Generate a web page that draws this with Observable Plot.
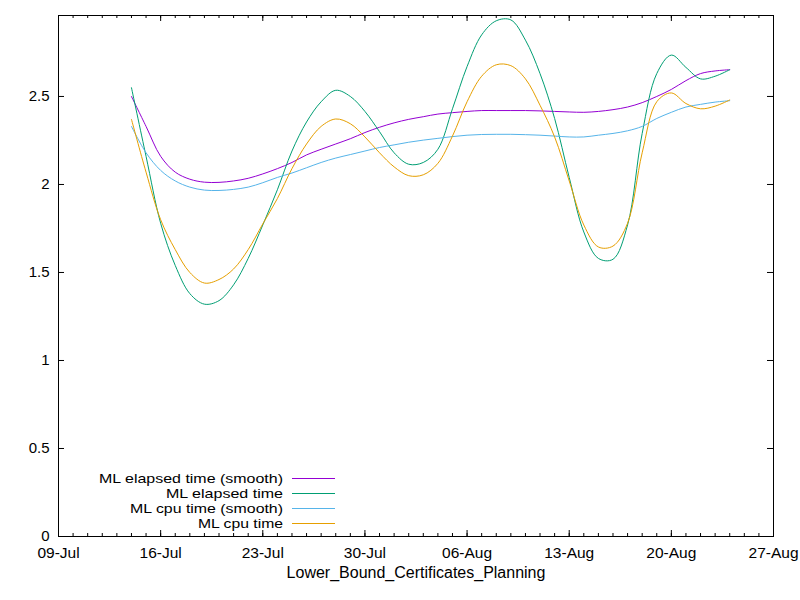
<!DOCTYPE html>
<html><head><meta charset="utf-8">
<script src="https://cdn.jsdelivr.net/npm/d3@7"></script>
<script src="https://cdn.jsdelivr.net/npm/@observablehq/plot@0.6"></script>
<style>body{margin:0;background:#fff}#chart{width:800px;height:600px}</style>
</head><body><div id="chart"></div>
<script>
// Dates: 14-Jul .. 24-Aug (daily)
const dates = [
 "2019-07-14","2019-07-15","2019-07-16","2019-07-17","2019-07-18","2019-07-19","2019-07-20",
 "2019-07-21","2019-07-22","2019-07-23","2019-07-24","2019-07-25","2019-07-26","2019-07-27",
 "2019-07-28","2019-07-29","2019-07-30","2019-07-31","2019-08-01","2019-08-02","2019-08-03",
 "2019-08-04","2019-08-05","2019-08-06","2019-08-07","2019-08-08","2019-08-09","2019-08-10",
 "2019-08-11","2019-08-12","2019-08-13","2019-08-14","2019-08-15","2019-08-16","2019-08-17",
 "2019-08-18","2019-08-19","2019-08-20","2019-08-21","2019-08-22","2019-08-23","2019-08-24"];
const elapsedSmooth = [2.50,2.33,2.16,2.07,2.03,2.013,2.012,2.02,2.035,2.06,2.09,2.125,2.168,2.20,
 2.23,2.26,2.295,2.325,2.35,2.37,2.385,2.40,2.408,2.415,2.42,2.42,2.42,2.42,
 2.418,2.415,2.412,2.41,2.415,2.425,2.44,2.465,2.50,2.54,2.59,2.63,2.645,2.652];
const elapsed = [2.55,2.16,1.78,1.54,1.38,1.32,1.34,1.43,1.58,1.77,1.97,2.19,2.355,2.47,
 2.535,2.50,2.415,2.30,2.18,2.115,2.125,2.20,2.43,2.67,2.85,2.93,2.935,2.82,
 2.63,2.375,2.04,1.73,1.58,1.575,1.77,2.29,2.63,2.735,2.665,2.60,2.615,2.652];
const cpuSmooth = [2.33,2.18,2.08,2.02,1.985,1.968,1.966,1.972,1.985,2.01,2.04,2.065,2.095,2.125,
 2.15,2.17,2.19,2.21,2.225,2.24,2.252,2.262,2.272,2.28,2.284,2.285,2.285,2.283,
 2.28,2.275,2.27,2.27,2.28,2.29,2.305,2.33,2.375,2.41,2.44,2.455,2.468,2.476];
const cpu = [2.37,2.07,1.80,1.63,1.50,1.44,1.46,1.52,1.63,1.776,1.92,2.09,2.23,2.33,
 2.372,2.345,2.27,2.18,2.10,2.05,2.055,2.12,2.275,2.47,2.615,2.68,2.675,2.60,
 2.45,2.27,2.02,1.77,1.645,1.65,1.78,2.18,2.47,2.52,2.46,2.43,2.445,2.48];

const seriesNames = ["ML elapsed time (smooth)","ML elapsed time","ML cpu time (smooth)","ML cpu time"];
const seriesColors = ["#9400d3","#009e73","#56b4e9","#e69f00"];
const seriesValues = [elapsedSmooth, elapsed, cpuSmooth, cpu];

const xTickLabels = ["2019-07-09","2019-07-16","2019-07-23","2019-07-30","2019-08-06","2019-08-13","2019-08-20","2019-08-27"];
const yTicks = [0,0.5,1,1.5,2,2.5];
const xLabel = "Lower_Bound_Certificates_Planning";

const rows = seriesNames.flatMap((name, k) =>
  seriesValues[k].map((v, i) => ({name, date: new Date(dates[i]), value: v})));

const W = 800, H = 600, mL = 58, mR = 27, mT = 15, mB = 64;
const pW = W - mL - mR, pH = H - mT - mB;
const xStart = new Date(xTickLabels[0]), xEnd = new Date(xTickLabels[xTickLabels.length-1]);
const majorX = xTickLabels.map(d => new Date(d));
const minorX = d3.utcDay.range(xStart, d3.utcDay.offset(xEnd, 1));

const chart = Plot.plot({
  width: W, height: H,
  marginLeft: mL, marginRight: mR, marginTop: mT, marginBottom: mB,
  style: {fontFamily: "'Liberation Sans', Arial, sans-serif", fontSize: "15px", background: "white", color: "black"},
  x: {type: "utc", domain: [xStart, xEnd]},
  y: {domain: [0, 2.96]},
  color: {domain: seriesNames, range: seriesColors},
  marks: [
    Plot.axisX({ticks: majorX, tickSize: 0, tickPadding: 10, tickFormat: d3.utcFormat("%d-%b"), label: null, fontSize: 15.5}),
    Plot.axisY({ticks: yTicks, tickSize: 0, tickPadding: 9, tickFormat: d3.format("~g"), label: null, fontSize: 15}),
    Plot.tickX(minorX, {x: d => d, insetTop: pH - 3, stroke: "black"}),
    Plot.tickX(minorX, {x: d => d, insetBottom: pH - 3, stroke: "black"}),
    Plot.tickX(majorX, {x: d => d, insetTop: pH - 6, stroke: "black"}),
    Plot.tickX(majorX, {x: d => d, insetBottom: pH - 6, stroke: "black"}),
    Plot.tickY(yTicks, {y: d => d, insetRight: pW - 6, stroke: "black"}),
    Plot.tickY(yTicks, {y: d => d, insetLeft: pW - 6, stroke: "black"}),
    Plot.line(rows, {x: "date", y: "value", z: "name", stroke: "name", curve: "catmull-rom", strokeWidth: 1}),
    Plot.frame({stroke: "black"}),
    Plot.text([xLabel], {frameAnchor: "bottom", dy: 41, fontSize: 16, fill: "black"})
  ]
});

// In-plot key (gnuplot style); widths matched to the reference key
const keyWidths = [184, 117, 153, 85];
const svg = d3.select(chart);
const key = svg.append("g").attr("font-family", "'Liberation Sans', Arial, sans-serif").attr("font-size", 13.4);
seriesNames.forEach((name, k) => {
  const yy = 478.5 + k * 15;
  key.append("text").attr("x", 283).attr("y", yy).attr("dy", "0.36em").attr("text-anchor", "end")
    .attr("textLength", keyWidths[k]).attr("lengthAdjust", "spacingAndGlyphs").attr("fill", "black").text(name);
  key.append("line").attr("x1", 292).attr("x2", 335).attr("y1", yy).attr("y2", yy).attr("stroke", seriesColors[k]).attr("stroke-width", 1);
});

document.getElementById("chart").appendChild(chart);
</script>
</body></html>
